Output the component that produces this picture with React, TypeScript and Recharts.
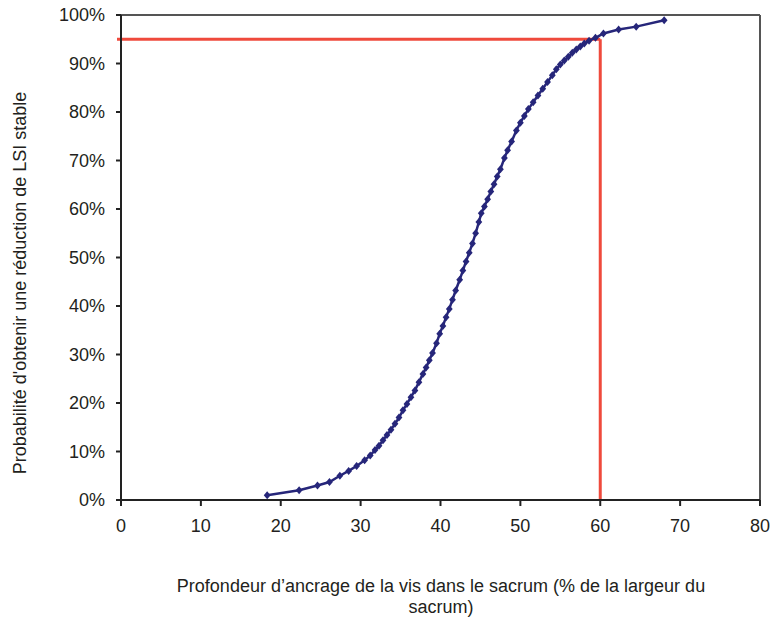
import React from 'react';
import {
  ComposedChart,
  Line,
  XAxis,
  YAxis,
  ReferenceLine,
} from 'recharts';

// Profondeur d'ancrage (% largeur du sacrum)
const depth = [
  18.3, 22.3, 24.6, 26.1, 27.4, 28.5, 29.5, 30.5, 31.2, 31.8,
  32.3, 32.8, 33.3, 33.8, 34.3, 34.8, 35.3, 35.8, 36.3, 36.8,
  37.3, 37.8, 38.2, 38.6, 39.0, 39.5, 39.9, 40.3, 40.7, 41.1,
  41.5, 41.9, 42.4, 42.8, 43.2, 43.6, 44.0, 44.4, 44.8, 45.1,
  45.5, 45.9, 46.3, 46.7, 47.1, 47.5, 48.0, 48.4, 48.9, 49.5,
  50.0, 50.5, 51.0, 51.6, 52.2, 52.8, 53.4, 54.0, 54.5, 55.0,
  55.5, 56.0, 56.5, 57.0, 57.5, 58.0, 58.6, 59.4, 60.4, 62.3,
  64.5, 68.0,
];

// Probabilité cumulée (%)
const probability = [
  1.0, 2.0, 3.0, 3.7, 5.0, 6.0, 7.0, 8.2, 9.2, 10.3,
  11.2, 12.3, 13.4, 14.5, 15.7, 17.0, 18.5, 19.8, 21.2, 22.6,
  24.3, 26.0, 27.3, 28.8, 30.3, 32.3, 34.3, 35.9, 37.7, 39.4,
  41.3, 43.2, 45.4, 47.3, 49.2, 51.0, 52.9, 55.0, 57.3, 59.1,
  60.5, 62.0, 63.6, 65.1, 66.7, 68.2, 70.5, 72.1, 73.9, 76.2,
  77.8, 79.2, 80.6, 82.0, 83.4, 84.8, 86.2, 87.6, 88.8, 89.8,
  90.6, 91.4, 92.2, 92.9, 93.5, 94.1, 94.7, 95.3, 96.2, 97.0,
  97.6, 98.9,
];

const xTicks = [0, 10, 20, 30, 40, 50, 60, 70, 80];
const yTicks = [0, 10, 20, 30, 40, 50, 60, 70, 80, 90, 100];

const thresholdX = 60;
const thresholdY = 95;

const data = depth.map((x, i) => ({ x, p: probability[i] }));

const NAVY = '#26267a';
const RED = '#ef4a3c';
const INK = '#231f20';
const FONT = 'Liberation Sans, Arial, sans-serif';

const Diamond = (props: any) => {
  const { cx, cy, index } = props;
  if (cx == null || cy == null) return null;
  const r = 4;
  return (
    <path
      key={`d-${index}`}
      d={`M${cx},${cy - r} L${cx + r * 0.85},${cy} L${cx},${cy + r} L${cx - r * 0.85},${cy} Z`}
      fill={NAVY}
    />
  );
};

const tickStyle = { fill: INK, fontSize: 18, fontFamily: FONT };

export default function App() {
  return (
    <div style={{ position: 'absolute', left: 0, top: 0, width: 772, height: 617, background: '#fff' }}>
      <ComposedChart
        width={772}
        height={617}
        data={data}
        margin={{ top: 15, right: 12, left: 61, bottom: 87 }}
      >
        <XAxis
          dataKey="x"
          type="number"
          domain={[0, 80]}
          ticks={xTicks}
          tick={tickStyle}
          tickSize={6}
          tickMargin={13}
          height={30}
          stroke="#222"
          strokeWidth={2}
        />
        <YAxis
          type="number"
          domain={[0, 100]}
          ticks={yTicks}
          tickFormatter={(v) => `${v}%`}
          tick={tickStyle}
          tickSize={5}
          tickMargin={11}
          width={60}
          stroke="#222"
          strokeWidth={2}
        />
        <ReferenceLine y={100} stroke="#555" strokeWidth={2} />
        <ReferenceLine x={80} stroke="#555" strokeWidth={2} />
        <ReferenceLine
          segment={[{ x: -0.5, y: thresholdY }, { x: thresholdX, y: thresholdY }]}
          stroke={RED}
          strokeWidth={3}
          ifOverflow="visible"
        />
        <ReferenceLine
          segment={[{ x: thresholdX, y: thresholdY }, { x: thresholdX, y: 0 }]}
          stroke={RED}
          strokeWidth={3}
        />
        <Line
          dataKey="p"
          type="linear"
          stroke={NAVY}
          strokeWidth={2.5}
          dot={<Diamond />}
          activeDot={false}
          isAnimationActive={false}
        />
      </ComposedChart>

      <div
        style={{
          position: 'absolute',
          left: 20,
          top: 283,
          transform: 'translate(-50%, -50%) rotate(-90deg)',
          whiteSpace: 'nowrap',
          fontFamily: FONT,
          fontSize: 18,
          color: INK,
        }}
      >
        Probabilité d'obtenir une réduction de LSI stable
      </div>
      <div
        style={{
          position: 'absolute',
          left: 441 - 280,
          top: 576,
          width: 560,
          textAlign: 'center',
          fontFamily: FONT,
          fontSize: 18,
          lineHeight: '21px',
          color: INK,
        }}
      >
        Profondeur d’ancrage de la vis dans le sacrum (% de la largeur du sacrum)
      </div>
    </div>
  );
}
